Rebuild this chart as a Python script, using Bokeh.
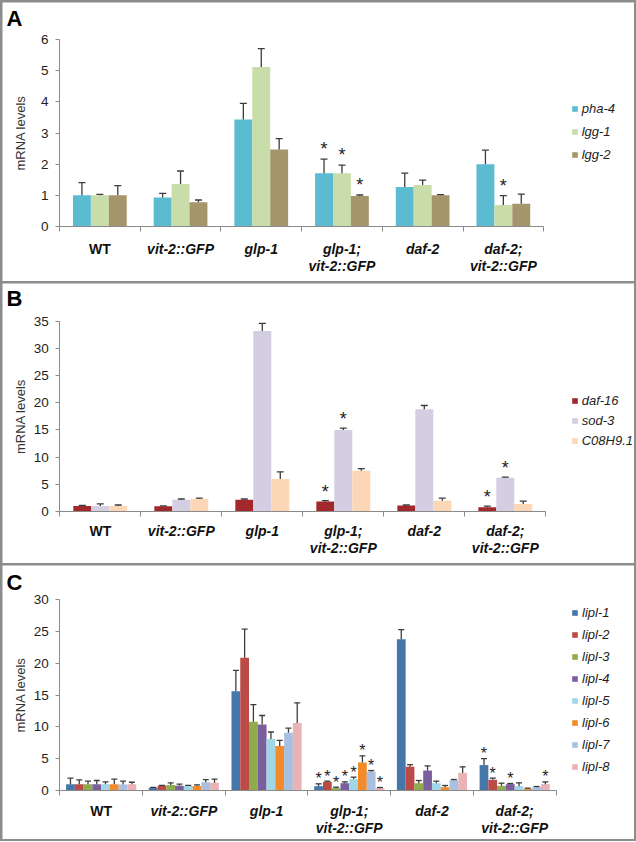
from bokeh.plotting import figure
from bokeh.models import (Range1d, FixedTicker, Whisker, TeeHead, Legend, LegendItem,
                          ColumnDataSource)
from bokeh.layouts import column
from bokeh.embed import file_html
from bokeh.resources import INLINE
from bokeh.core.properties import value

# ---------------- data ----------------
groups = ["WT", "vit-2::GFP", "glp-1", "glp-1;\nvit-2::GFP", "daf-2", "daf-2;\nvit-2::GFP"]
group_italic = [False, True, True, True, True, True]

# Panel A
genes_a = ["pha-4", "lgg-1", "lgg-2"]
colors_a = ["#5BBBD0", "#C9DDAA", "#A4956A"]
pha4_mean = [1.0, 0.93, 3.43, 1.71, 1.27, 2.0]
pha4_err = [0.41, 0.13, 0.52, 0.45, 0.44, 0.45]
lgg1_mean = [1.0, 1.36, 5.12, 1.71, 1.33, 0.69]
lgg1_err = [0.03, 0.42, 0.59, 0.26, 0.16, 0.30]
lgg2_mean = [1.0, 0.78, 2.47, 0.98, 1.0, 0.73]
lgg2_err = [0.31, 0.07, 0.35, 0.03, 0.02, 0.31]
pha4_sig = [0, 0, 0, 1, 0, 0]
lgg1_sig = [0, 0, 0, 1, 0, 1]
lgg2_sig = [0, 0, 0, 1, 0, 0]

# Panel B
genes_b = ["daf-16", "sod-3", "C08H9.1"]
colors_b = ["#A2282C", "#D4CEE2", "#FBD6B7"]
daf16_mean = [1.0, 0.95, 2.15, 1.84, 1.1, 0.8]
daf16_err = [0.1, 0.08, 0.15, 0.16, 0.1, 0.2]
sod3_mean = [1.0, 2.15, 33.2, 15.0, 18.8, 6.2]
sod3_err = [0.4, 0.15, 1.4, 0.35, 0.7, 0.12]
c08_mean = [1.0, 2.3, 6.0, 7.5, 2.0, 1.4]
c08_err = [0.2, 0.15, 1.3, 0.4, 0.45, 0.5]
daf16_sig = [0, 0, 0, 1, 0, 1]
sod3_sig = [0, 0, 0, 1, 0, 1]
c08_sig = [0, 0, 0, 0, 0, 0]

# Panel C
genes_c = ["lipl-1", "lipl-2", "lipl-3", "lipl-4", "lipl-5", "lipl-6", "lipl-7", "lipl-8"]
colors_c = ["#4677AB", "#BC4A47", "#90AB4D", "#7B5E9C", "#A0D6E6", "#F28C2A", "#A8BFDF", "#E8B3B4"]
lipl1_mean = [1.0, 0.45, 15.6, 0.68, 23.8, 4.0]
lipl1_err = [0.94, 0.05, 3.3, 0.37, 1.5, 1.0]
lipl2_mean = [1.0, 0.75, 20.9, 1.36, 3.75, 1.68]
lipl2_err = [0.68, 0.05, 4.5, 0.11, 0.32, 0.26]
lipl3_mean = [1.0, 0.85, 10.8, 0.37, 1.15, 0.73]
lipl3_err = [0.47, 0.35, 2.7, 0.15, 0.42, 0.42]
lipl4_mean = [1.0, 0.75, 10.4, 1.15, 3.14, 1.0]
lipl4_err = [0.57, 0.25, 1.4, 0.21, 0.73, 0.1]
lipl5_mean = [1.0, 0.7, 8.1, 1.78, 1.15, 0.68]
lipl5_err = [0.36, 0.1, 1.1, 0.32, 0.32, 0.52]
lipl6_mean = [1.0, 0.7, 7.0, 4.4, 0.52, 0.26]
lipl6_err = [0.78, 0.2, 0.9, 1.05, 0.27, 0.11]
lipl7_mean = [0.95, 1.3, 9.1, 2.98, 1.62, 0.52]
lipl7_err = [0.52, 0.4, 0.7, 0.16, 0.11, 0.11]
lipl8_mean = [1.0, 1.2, 10.6, 0.37, 2.77, 1.0]
lipl8_err = [0.3, 0.6, 3.2, 0.1, 0.95, 0.35]
lipl_sig = [
    [0, 0, 0, 1, 0, 1],
    [0, 0, 0, 1, 0, 1],
    [0, 0, 0, 1, 0, 0],
    [0, 0, 0, 1, 0, 1],
    [0, 0, 0, 1, 0, 0],
    [0, 0, 0, 1, 0, 0],
    [0, 0, 0, 1, 0, 0],
    [0, 0, 0, 1, 0, 1],
]

# ---------------- styling ----------------
FONT = "Liberation Sans"
AXIS_COL = "#8a8a8a"
ERR_COL = "#3c3c3c"
TXT = "#1e1e1e"
W = 632


def make_panel(letter, genes, colors, means, errs, sigs, ymax, ystep, cfg):
    H = cfg["H"]
    ax_x, gpx = cfg["ax_x"], cfg["gpx"]
    y0, ytop = cfg["y0"], cfg["ytop"]
    ppu = (y0 - ytop) / ymax
    x_start, x_end = -ax_x / gpx, (W - ax_x) / gpx
    y_start, y_end = -(H - y0) / ppu, ymax + ytop / ppu

    p = figure(width=W, height=H, x_range=Range1d(x_start, x_end),
               y_range=Range1d(y_start, y_end),
               output_backend="svg", toolbar_location=None,
               min_border=0, min_border_left=0, min_border_right=0,
               min_border_top=0, min_border_bottom=0)
    p.outline_line_color = None
    p.xgrid.grid_line_color = None
    p.ygrid.grid_line_color = None
    p.background_fill_color = "white"
    p.border_fill_color = "white"

    # x axis at y=0: ticks between groups, no numeric labels
    xa = p.xaxis[0]
    xa.fixed_location = 0
    xa.ticker = FixedTicker(ticks=list(range(len(groups) + 1)), minor_ticks=[])
    xa.major_label_overrides = {i: "" for i in range(len(groups) + 1)}
    xa.bounds = (0, len(groups))
    xa.axis_line_color = AXIS_COL
    xa.major_tick_line_color = AXIS_COL
    xa.major_tick_out = 5
    xa.major_tick_in = 0
    xa.minor_tick_line_color = None

    ya = p.yaxis[0]
    ya.fixed_location = 0
    ya.bounds = (0, ymax)
    ya.ticker = FixedTicker(ticks=list(range(0, ymax + 1, ystep)), minor_ticks=[])
    ya.axis_line_color = AXIS_COL
    ya.major_tick_line_color = AXIS_COL
    ya.major_tick_out = 4
    ya.major_tick_in = 0
    ya.minor_tick_line_color = None
    ya.major_label_text_font = FONT
    ya.major_label_text_font_size = "13.5px"
    ya.major_label_text_color = TXT
    ya.major_label_standoff = 7
    ya.axis_label = "mRNA levels"
    ya.axis_label_text_font = FONT
    ya.axis_label_text_font_size = "13px"
    ya.axis_label_text_font_style = "normal"
    ya.axis_label_text_color = "#333333"
    ya.axis_label_standoff = cfg["ylab_standoff"]

    n = len(genes)
    bw = cfg["bw"]
    renderers = []
    for j, (g, c, m, e, s) in enumerate(zip(genes, colors, means, errs, sigs)):
        xs = [i + 0.5 + (j - (n - 1) / 2) * bw for i in range(len(groups))]
        up = [a + b for a, b in zip(m, e)]
        src = ColumnDataSource(dict(x=xs, top=m, up=up))
        r = p.vbar(x="x", top="top", bottom=0, width=bw, source=src,
                   fill_color=c, line_color=None)
        renderers.append(r)
        wh = Whisker(source=src, base="x", lower="top", upper="up", dimension="height",
                     line_color=ERR_COL, line_width=1.3,
                     upper_head=TeeHead(size=cfg["tee"], line_color=ERR_COL, line_width=1.3),
                     lower_head=None, level="overlay")
        p.add_layout(wh)
        sx = [x for x, f in zip(xs, s) if f]
        sy = [u + cfg["star_off"] / ppu for u, f in zip(up, s) if f]
        if sx:
            p.text(x=sx, y=sy, text=["*"] * len(sx), text_font=value(FONT),
                   text_font_size=cfg["star_size"], text_align="center",
                   text_baseline="alphabetic", text_color="#222222")

    # legend (frame == whole figure; location measured from bottom-left)
    lh, lsp = cfg["lh"], cfg["lsp"]
    leg_h = n * lh + (n - 1) * lsp
    ly = H - (cfg["leg_y0"] - lh / 2) - leg_h
    legend = Legend(items=[LegendItem(label=g, renderers=[r]) for g, r in zip(genes, renderers)],
                    location=(cfg["leg_x"], ly), orientation="vertical",
                    glyph_width=7, glyph_height=7, label_standoff=4,
                    label_height=lh, label_width=20, spacing=lsp, padding=0, margin=0,
                    border_line_color=None, background_fill_alpha=0,
                    label_text_font=FONT, label_text_font_size="13px",
                    label_text_font_style="italic", label_text_color=TXT)
    p.add_layout(legend)

    # category labels below the x axis
    for italic in (False, True):
        cx, cy, ct = [], [], []
        for i, (g, it) in enumerate(zip(groups, group_italic)):
            if it != italic:
                continue
            for k, line in enumerate(g.split("\n")):
                cx.append(i + 0.5)
                cy.append(-cfg["cat_y"][k] / ppu)
                ct.append(line)
        if cx:
            p.text(x=cx, y=cy, text=ct, text_align="center", text_baseline="middle",
                   text_font=value(FONT), text_font_size="14px",
                   text_font_style="bold italic" if italic else "bold",
                   text_color="#111111")

    # panel letter
    p.text(x=[(cfg["letter_x"] - ax_x) / gpx], y=[(y0 - cfg["letter_mid"]) / ppu],
           text=[letter], text_align="left", text_baseline="middle",
           text_font=value(FONT), text_font_size="22px", text_font_style="bold",
           text_color="#000000")
    return p


cfg_a = dict(H=279, ax_x=57, gpx=80.7, y0=224, ytop=37, bw=0.222, tee=7,
             star_off=10, star_size="18px", lh=18, lsp=5, leg_x=568.7, leg_y0=106,
             cat_y=[22, 39], letter_x=4, letter_mid=16, ylab_standoff=10)
cfg_b = dict(H=280, ax_x=57.3, gpx=81.0, y0=228, ytop=37.7, bw=0.222, tee=7,
             star_off=9, star_size="18px", lh=16, lsp=4, leg_x=568.7, leg_y0=117.7,
             cat_y=[19, 36], letter_x=4, letter_mid=15, ylab_standoff=2)
cfg_c = dict(H=274, ax_x=57.3, gpx=82.7, y0=225, ytop=34.3, bw=0.106, tee=6,
             star_off=5, star_size="16px", lh=18, lsp=4, leg_x=569, leg_y0=47.3,
             cat_y=[20.7, 37], letter_x=4, letter_mid=16.5, ylab_standoff=2)

pA = make_panel("A", genes_a, colors_a,
                [pha4_mean, lgg1_mean, lgg2_mean], [pha4_err, lgg1_err, lgg2_err],
                [pha4_sig, lgg1_sig, lgg2_sig], 6, 1, cfg_a)
pB = make_panel("B", genes_b, colors_b,
                [daf16_mean, sod3_mean, c08_mean], [daf16_err, sod3_err, c08_err],
                [daf16_sig, sod3_sig, c08_sig], 35, 5, cfg_b)
pC = make_panel("C", genes_c, colors_c,
                [lipl1_mean, lipl2_mean, lipl3_mean, lipl4_mean,
                 lipl5_mean, lipl6_mean, lipl7_mean, lipl8_mean],
                [lipl1_err, lipl2_err, lipl3_err, lipl4_err,
                 lipl5_err, lipl6_err, lipl7_err, lipl8_err],
                lipl_sig, 30, 5, cfg_c)

layout = column(pA, pB, pC, spacing=2,
                styles={"background-color": "#8c8c8c", "padding": "2px"})

open("out.html", "w").write(file_html(layout, INLINE))
